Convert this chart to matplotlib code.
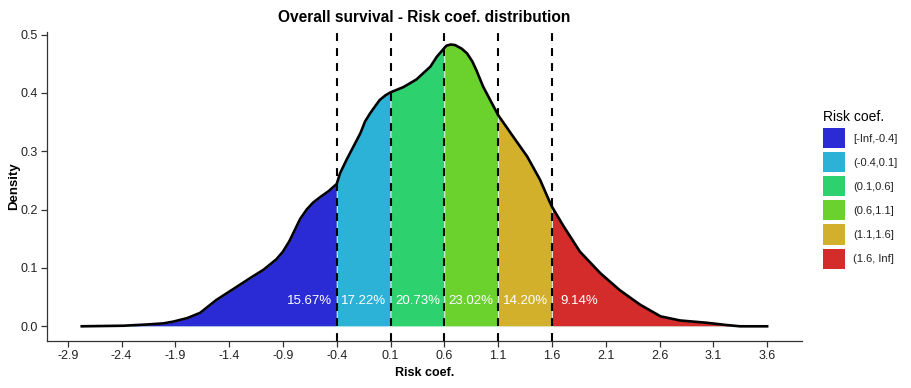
import matplotlib
matplotlib.use("Agg")
import matplotlib.pyplot as plt
import numpy as np
from matplotlib.patches import Patch

plt.rcParams["font.family"] = ["Liberation Sans", "DejaVu Sans"]

# density curve
risk = [-2.77, -2.38, -2.17, -2.01, -1.92, -1.79, -1.67, -1.52, -1.36, -1.21,
        -1.08, -0.96, -0.90, -0.84, -0.79, -0.74, -0.68, -0.62, -0.55, -0.48,
        -0.40, -0.37, -0.31, -0.245, -0.18, -0.137, -0.09, -0.04, 0.00, 0.054,
        0.10, 0.22, 0.34, 0.47, 0.53, 0.60, 0.62, 0.66, 0.70, 0.76,
        0.81, 0.86, 0.90, 0.96, 1.10, 1.24, 1.37, 1.49, 1.57, 1.60,
        1.71, 1.86, 2.05, 2.23, 2.42, 2.61, 2.79, 3.04, 3.23, 3.35, 3.60]
density = [0.000, 0.001, 0.003, 0.005, 0.008, 0.014, 0.023, 0.045, 0.064, 0.082,
           0.097, 0.115, 0.128, 0.146, 0.165, 0.184, 0.200, 0.212, 0.222, 0.231,
           0.244, 0.262, 0.285, 0.308, 0.331, 0.351, 0.365, 0.378, 0.388, 0.396,
           0.401, 0.410, 0.423, 0.445, 0.462, 0.477, 0.481, 0.483, 0.482, 0.476,
           0.468, 0.454, 0.438, 0.411, 0.362, 0.325, 0.291, 0.251, 0.217, 0.205,
           0.171, 0.128, 0.091, 0.062, 0.037, 0.017, 0.010, 0.006, 0.002, 0.000, 0.000]

breaks = [-0.4, 0.1, 0.6, 1.1, 1.6]
groups = ["[-Inf,-0.4]", "(-0.4,0.1]", "(0.1,0.6]", "(0.6,1.1]", "(1.1,1.6]", "(1.6, Inf]"]
colors = ["#2B2BD5", "#2BB2D6", "#2DD16E", "#6BD12C", "#D2B02B", "#D42B2B"]
shares = ["15.67%", "17.22%", "20.73%", "23.02%", "14.20%", "9.14%"]
label_x = [-0.65, -0.15, 0.35, 0.85, 1.35, 1.85]
xticks = [-2.9, -2.4, -1.9, -1.4, -0.9, -0.4, 0.1, 0.6, 1.1, 1.6, 2.1, 2.6, 3.1, 3.6]

x = np.array(risk)
y = np.array(density)

fig = plt.figure(figsize=(9.12, 3.88), dpi=100)
ax = fig.add_axes([0.0519, 0.1219, 0.827, 0.7965])

edges = [-np.inf] + breaks + [np.inf]
for lo, hi, col in zip(edges[:-1], edges[1:], colors):
    m = (x >= lo) & (x <= hi)
    ax.fill_between(x[m], 0, y[m], color=col, linewidth=0.6, edgecolor="#dff5ee", zorder=1)

ax.plot(x, y, color="black", linewidth=1.9, zorder=3, solid_joinstyle="round")

for b in breaks:
    ax.axvline(b, color="black", linewidth=1.5, dashes=(3.8, 3.4), zorder=4)

for lx, txt in zip(label_x, shares):
    ax.text(lx, 0.043, txt, color="white", fontsize=9.5, ha="center", va="center", zorder=5)

ax.set_xlim(-3.09, 3.92)
ax.set_ylim(-0.0247, 0.505)
ax.set_xticks(xticks)
ax.set_xticklabels([f"{t:.1f}" for t in xticks])
ax.set_yticks([0.0, 0.1, 0.2, 0.3, 0.4, 0.5])
ax.set_yticklabels(["0.0", "0.1", "0.2", "0.3", "0.4", "0.5"])
for s in ["top", "right"]:
    ax.spines[s].set_visible(False)
for s in ["left", "bottom"]:
    ax.spines[s].set_color("#333333")
    ax.spines[s].set_linewidth(0.9)
ax.tick_params(colors="#333333", labelcolor="#222222", labelsize=9, length=4, width=0.9, pad=3)

ax.set_xlabel("Risk coef.", fontsize=9, fontweight="bold", labelpad=3)
ax.set_ylabel("Density", fontsize=9.5, fontweight="bold", labelpad=0)
fig.text(0.4655, 0.956, "Overall survival - Risk coef. distribution",
         ha="center", va="center", fontsize=11.2, fontweight="bold")

handles = [Patch(facecolor=c, edgecolor="none") for c in colors]
leg = ax.legend(handles, groups, title="Risk coef.", loc="upper left",
                bbox_to_anchor=(1.023, 0.76), frameon=False, fontsize=8,
                title_fontsize=10, handlelength=1.95, handleheight=2.4,
                labelspacing=0.36, handletextpad=0.7, borderaxespad=0)
leg._legend_box.align = "left"
for t in leg.get_texts():
    t.set_color("#222222")

fig.savefig("out.png", dpi=100)
